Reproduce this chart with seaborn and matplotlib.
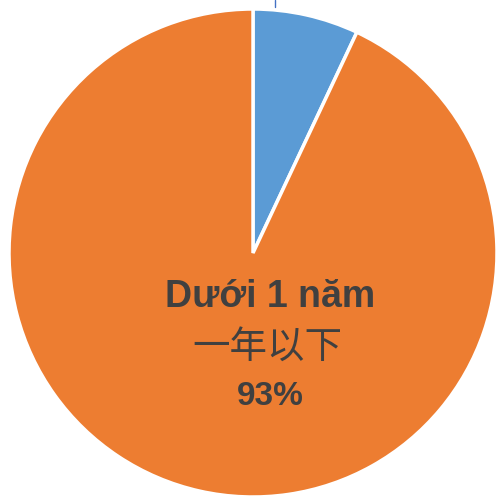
import matplotlib
matplotlib.use("Agg")
import matplotlib.pyplot as plt
import seaborn as sns
from matplotlib.lines import Line2D

# data
labels = ["Trên 1 năm", "Dưới 1 năm"]
labels_cn = ["一年以上", "一年以下"]
shares = [7, 93]
colors = ["#5B9BD5", "#ED7D31"]

sns.set_theme(style="white")
plt.rcParams['font.family'] = ['Liberation Sans', 'Noto Sans CJK SC', 'DejaVu Sans']

fig = plt.figure(figsize=(4.97, 5.01), dpi=100)
ax = fig.add_axes([9 / 497, 4 / 501, 488 / 497, 488 / 501])

ax.pie(shares, colors=colors, startangle=90, counterclock=False, radius=1,
       wedgeprops=dict(edgecolor="white", linewidth=2.5))
ax.set_xlim(-1, 1)
ax.set_ylim(-1, 1)
ax.set_axis_off()

# label of the big slice
txt = "#404040"
ax.text(0.07, -0.18, labels[1], ha="center", va="center", fontsize=27,
        fontweight="bold", color=txt)
ax.text(0.06, -0.385, labels_cn[1], ha="center", va="center", fontsize=27,
        color=txt, family=['Noto Sans CJK SC', 'DejaVu Sans'])
ax.text(0.07, -0.59, f"{shares[1]}%", ha="center", va="center", fontsize=24,
        fontweight="bold", color=txt)

# leader line stub of the small slice label (cut off at the top)
fig.add_artist(Line2D([275 / 497, 275 / 497], [1.0, 1 - 7 / 501],
                      transform=fig.transFigure, color="#4472C4", linewidth=1))

fig.savefig("out.png", dpi=100)
